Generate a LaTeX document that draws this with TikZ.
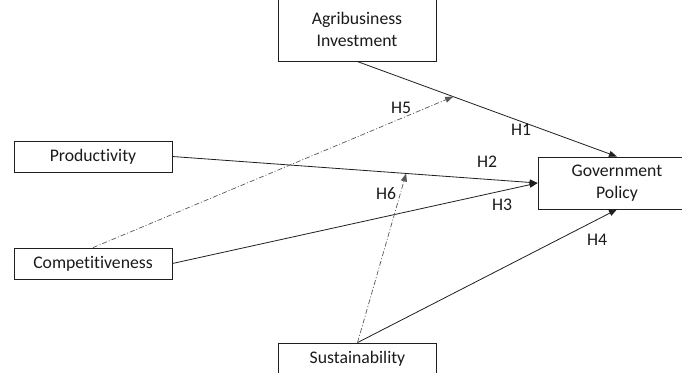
\documentclass[tikz,border=0pt]{standalone}
\usepackage{fontspec}
\setmainfont{Carlito}[Ligatures={NoCommon,NoRare,NoContextual}]
\usetikzlibrary{arrows.meta,calc}
\definecolor{txt}{HTML}{1A1A1A}
\definecolor{ln}{HTML}{1F1F1F}
\begin{document}
\begin{tikzpicture}[x=1pt,y=-1pt,
  box/.style={draw=ln,line width=0.8pt,minimum width=158pt,align=center,text=txt,inner sep=0pt,font=\fontsize{17.7}{21.6}\selectfont},
  conn/.style={draw=ln,line width=0.8pt,-{Triangle[length=8pt,width=6pt]}},
  mod/.style={draw=ln!75,line width=0.7pt,dash pattern=on 5pt off 2pt on 1pt off 2pt,-{Triangle[length=8pt,width=6pt]}},
  lab/.style={text=txt,inner sep=0pt,font=\fontsize{17.7}{21.6}\selectfont}]
\useasboundingbox (0,0) rectangle (682,372);
\begin{scope}
\clip (0,0) rectangle (682,372);
\node[box,minimum height=63pt] (agri) at (357,29.5) {Agribusiness\\Investment};
\node[box,minimum height=31pt] (prod) at (93,156.5) {Productivity};
\node[box,minimum height=31pt] (comp) at (93,263.5) {Competitiveness};
\node[box,minimum height=52pt] (gov) at (617,183) {Government\\Policy};
\node[box,minimum height=32pt] (sust) at (357.5,359) {Sustainability};

\draw[conn] (agri.south) -- (gov.north) coordinate[pos=0.37] (m1);
\draw[conn] (prod.east) -- (gov.west) coordinate[pos=0.64] (m2);
\draw[conn] (comp.east) -- (gov.west);
\draw[conn] (sust.north) -- (gov.south);
\draw[mod] (comp.north) -- (m1);
\draw[mod] (sust.north) -- (m2);

\node[lab] (h1) at (521,130) {H1};
\node[lab] (h5) at (401,108) {H5};
\node[lab] (h2) at (487,162) {H2};
\node[lab] (h6) at (386,194) {H6};
\node[lab] (h3) at (502,205) {H3};
\node[lab] (h4) at (597,240) {H4};
\end{scope}
\end{tikzpicture}
\end{document}
